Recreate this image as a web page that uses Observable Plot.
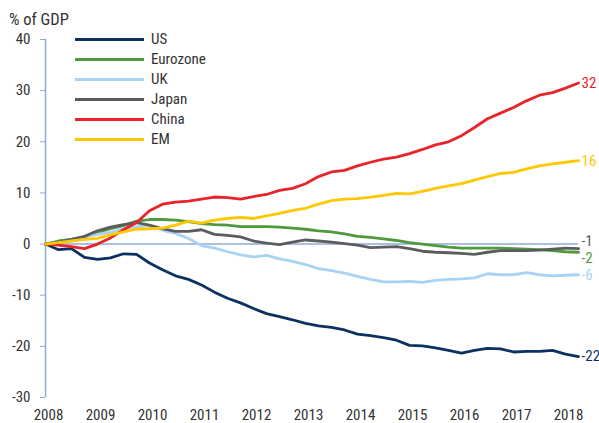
<!DOCTYPE html>
<html><head><meta charset="utf-8">
<script src="https://cdn.jsdelivr.net/npm/d3@7"></script>
<script src="https://cdn.jsdelivr.net/npm/@observablehq/plot@0.6"></script>
<style>
body{margin:0;background:#fff;}
#wrap{position:relative;width:599px;height:423px;font-family:"Liberation Sans Narrow","Arial Narrow","Roboto Condensed",sans-serif;color:#333;}
#title{position:absolute;left:9px;top:10px;font-size:16.5px;}
#legend{position:absolute;left:75px;top:29px;}
.item{display:flex;align-items:center;height:20px;font-size:15px;}
.sw{width:69px;height:3px;margin-right:7px;}
#chart{position:absolute;left:0;top:0;}
</style></head>
<body><div id="wrap"><div id="chart"></div><div id="title">% of GDP</div><div id="legend"></div></div>
<script>
const series = ["US","Eurozone","UK","Japan","China","EM"];
const colors = ["#0c3161","#4f9a3c","#a9d3f2","#5b5c5f","#e8232a","#fdc800"];
const us = [0,-1.1,-0.9,-2.6,-3.0,-2.7,-1.9,-2.0,-3.7,-5.0,-6.2,-6.9,-8.0,-9.4,-10.6,-11.5,-12.6,-13.6,-14.2,-14.8,-15.5,-16.0,-16.3,-16.8,-17.6,-17.9,-18.3,-18.8,-19.8,-19.9,-20.3,-20.8,-21.3,-20.8,-20.4,-20.5,-21.1,-21.0,-21.0,-20.8,-21.5,-22.0];
const eurozone = [0,0.6,0.9,1.4,2.3,3.0,3.6,4.5,4.8,4.8,4.7,4.4,4.0,3.8,3.7,3.4,3.4,3.4,3.3,3.1,2.9,2.6,2.4,2.0,1.5,1.3,1.0,0.7,0.3,0.0,-0.3,-0.6,-0.8,-0.8,-0.8,-0.8,-0.9,-1.0,-1.1,-1.3,-1.5,-1.6];
const uk = [0,0.4,0.8,1.4,1.9,2.3,3.0,3.4,3.6,2.7,2.1,1.1,-0.3,-0.8,-1.5,-2.1,-2.5,-2.2,-2.9,-3.4,-4.0,-4.8,-5.2,-5.7,-6.3,-6.9,-7.4,-7.4,-7.3,-7.5,-7.1,-6.9,-6.8,-6.6,-5.8,-6.0,-6.0,-5.6,-6.0,-6.2,-6.1,-6.0];
const japan = [0,0.4,0.9,1.5,2.6,3.3,3.8,4.2,3.7,3.0,2.5,2.5,2.8,1.9,1.7,1.4,0.6,0.2,-0.1,0.4,0.8,0.6,0.4,0.1,-0.2,-0.7,-0.6,-0.5,-0.9,-1.4,-1.6,-1.7,-1.8,-2.0,-1.6,-1.3,-1.3,-1.3,-1.2,-1.0,-0.8,-0.9];
const china = [0,-0.2,-0.5,-0.9,0,1.2,2.8,4.2,6.5,7.8,8.2,8.4,8.8,9.2,9.1,8.8,9.3,9.7,10.5,10.9,11.8,13.2,14.1,14.4,15.3,16.0,16.6,17.0,17.7,18.5,19.4,20.0,21.2,22.8,24.5,25.6,26.7,28.0,29.1,29.6,30.5,31.5];
const em = [0,0.3,0.6,0.9,1.1,1.8,2.4,2.9,3.0,3.1,3.7,4.5,4.1,4.7,5.0,5.2,5.0,5.5,6.0,6.6,7.0,7.8,8.5,8.8,8.9,9.2,9.5,9.9,9.8,10.3,10.9,11.4,11.8,12.5,13.2,13.8,14.0,14.7,15.3,15.7,16.0,16.3];
const endLabels = ["-22","-2","-6","-1","32","16"];
const labelDy = [0,6,0,-7,0,0];
const yTicks = [40,30,20,10,0,-10,-20,-30];
const xTicks = [2008,2009,2010,2011,2012,2013,2014,2015,2016,2017,2018];

const values = [us, eurozone, uk, japan, china, em];
const quarters = us.map((_, i) => 2008 + i / 4);
const rows = [];
series.forEach((s, k) => values[k].forEach((v, i) => rows.push({series: s, date: quarters[i], value: v})));
const ends = series.map((s, k) => ({series: s, date: quarters[quarters.length - 1], value: values[k][values[k].length - 1], label: endLabels[k], dy: labelDy[k], color: colors[k]}));

const axisColor = "#8faadc";
const plot = Plot.plot({
  width: 599, height: 423,
  marginLeft: 45, marginRight: 21, marginTop: 39, marginBottom: 26,
  style: {fontFamily: '"Liberation Sans Narrow","Arial Narrow","Roboto Condensed",sans-serif', fontSize: "15px", color: "#333", background: "#fff"},
  x: {domain: [2008, 2018.25], axis: null},
  y: {domain: [-30, 40], axis: null},
  color: {domain: series, range: colors},
  marks: [
    Plot.axisY({ticks: yTicks, tickSize: 5, tickPadding: 10, stroke: axisColor, color: "#333", tickFormat: d => String(d), label: null, fontSize: 15}),
    Plot.axisX({ticks: xTicks, tickSize: 0, tickPadding: 12, dx: 3, color: "#333", tickFormat: d => String(d), label: null, fontSize: 15}),
    Plot.ruleX([2008], {stroke: axisColor, strokeWidth: 1.5}),
    Plot.ruleY([0], {stroke: axisColor, strokeWidth: 1.5}),
    Plot.line(rows, {x: "date", y: "value", z: "series", stroke: "series", strokeWidth: 2.8, strokeLinejoin: "round"}),
    ...ends.map(e => Plot.text([e], {x: "date", y: "value", text: "label", fill: e.color, dx: 3, dy: e.dy, textAnchor: "start", fontSize: 15}))
  ]
});
document.getElementById("chart").appendChild(plot);

const legend = document.getElementById("legend");
series.forEach((s, k) => {
  const item = document.createElement("div");
  item.className = "item";
  const sw = document.createElement("div");
  sw.className = "sw";
  sw.style.background = colors[k];
  const label = document.createElement("span");
  label.textContent = s;
  item.appendChild(sw); item.appendChild(label);
  legend.appendChild(item);
});
</script>
</body></html>
